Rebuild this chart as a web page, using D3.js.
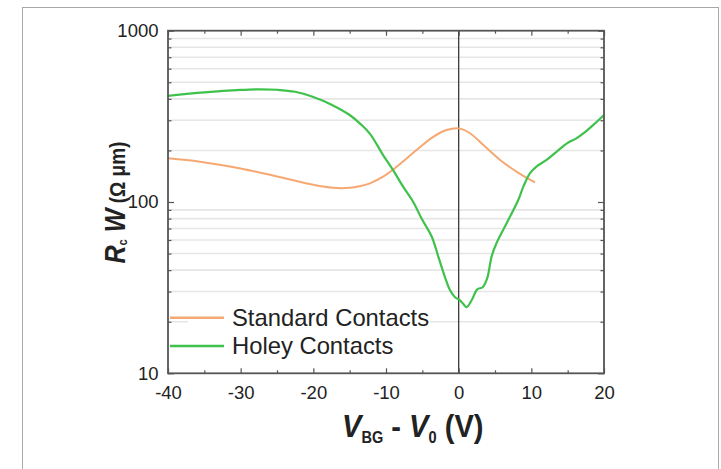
<!DOCTYPE html>
<html>
<head>
<meta charset="utf-8">
<script src="https://cdn.jsdelivr.net/npm/d3@7"></script>
<style>
  html, body { margin: 0; padding: 0; background: #fff; }
  svg { display: block; }
  text { font-family: "Liberation Sans", Arial, sans-serif; fill: #222; }
</style>
</head>
<body>
<svg id="chart" width="721" height="469"></svg>
<script>
// ---- data ----
const standardV = [-40, -35.6, -30, -25, -20, -17.3, -15, -13.5, -12.2, -10.4, -8.5, -5.8, -3.5, -1.66, 0, 1.56, 3.4, 5.7, 8.0, 10.5];
const standardR = [180, 172, 157, 141, 126, 121, 121, 124, 128.5, 140.5, 161, 201, 240, 263, 269, 252, 215, 176, 150, 130];

const holeyV = [-40, -35, -30, -27.5, -25, -22.5, -20, -17.5, -15, -13.5, -12.2, -10.4, -9.0, -7.6, -6.25, -5.1, -3.7, -2.8, -1.9, -1.2, -0.5, 0.1, 0.64, 1.1, 1.8, 2.56, 3.3, 3.93, 4.53, 5.2, 6.6, 8.2, 8.9, 9.8, 10.7, 12.1, 13.5, 14.9, 16.2, 17.2, 18.5, 20];
const holeyR = [416, 436, 451, 455, 452, 440, 410, 370, 322, 285, 250, 188, 153, 122, 100, 80, 62.7, 48, 36.6, 30.6, 27.8, 26.8, 25.4, 24.3, 26.8, 30.9, 31.8, 35.9, 48, 57.4, 75.1, 102.7, 123, 147, 161, 176, 197, 220, 235, 252, 281, 322];

const xTickValues = [-40, -30, -20, -10, 0, 10, 20];
const xMinorValues = [-35, -25, -15, -5, 5, 15];
const yTickValues = [10, 100, 1000];
const seriesNames = ["Standard Contacts", "Holey Contacts"];
const seriesColors = ["#f6a872", "#3fc24c"];

// ---- layout ----
const svg = d3.select("#chart");
const L = 168, R = 604, T = 30.7, B = 373.3;

const x = d3.scaleLinear().domain([-40, 20]).range([L, R]);
const y = d3.scaleLog().domain([10, 1000]).range([B, T]);
const fmt = d => String(d);

// outer frame
svg.append("rect").attr("x", 22.5).attr("y", 7.5).attr("width", 696).attr("height", 480)
  .attr("fill", "none").attr("stroke", "#a8a8a8").attr("stroke-width", 1);

// minor gridlines
const minorY = [];
[10, 100].forEach(d => { for (let k = 2; k <= 9; k++) minorY.push(d * k); });
svg.append("g").selectAll("line").data(minorY).join("line")
  .attr("x1", L).attr("x2", R).attr("y1", d => y(d)).attr("y2", d => y(d))
  .attr("stroke", "#e6e6e6").attr("stroke-width", 1.6);

// legend background (hides gridlines as in reference)
svg.append("rect").attr("x", 188).attr("y", 305).attr("width", 242).attr("height", 56).attr("fill", "#fff");

// zero line
svg.append("line").attr("x1", x(0)).attr("x2", x(0)).attr("y1", T).attr("y2", B)
  .attr("stroke", "#3a3a3a").attr("stroke-width", 1.3);

// curves
const line = d3.line().curve(d3.curveCatmullRom.alpha(0.5)).x(d => x(d[0])).y(d => y(d[1]));
const sData = standardV.map((v, i) => [v, standardR[i]]);
const hData = holeyV.map((v, i) => [v, holeyR[i]]);
svg.append("clipPath").attr("id", "clip").append("rect")
  .attr("x", L).attr("y", T).attr("width", R - L).attr("height", B - T);
svg.append("path").datum(sData).attr("d", line).attr("fill", "none")
  .attr("stroke", seriesColors[0]).attr("stroke-width", 2).attr("clip-path", "url(#clip)");
svg.append("path").datum(hData).attr("d", line).attr("fill", "none")
  .attr("stroke", seriesColors[1]).attr("stroke-width", 2.2).attr("clip-path", "url(#clip)");

// axes (ticks inside)
const axisColor = "#555";
function styleAxis(g) {
  g.select(".domain").remove();
  g.selectAll(".tick line").attr("stroke", axisColor).attr("stroke-width", 1.2);
  g.selectAll(".tick text").attr("font-size", "18.5px").attr("fill", "#222")
    .attr("font-family", "'Liberation Sans', Arial, sans-serif");
}
// bottom
svg.append("g").attr("transform", `translate(0,${B})`)
  .call(d3.axisBottom(x).tickValues(xTickValues).tickSizeInner(-5).tickSizeOuter(0).tickPadding(13).tickFormat(fmt))
  .call(styleAxis);
svg.append("g").attr("transform", `translate(0,${B})`)
  .call(d3.axisBottom(x).tickValues(xMinorValues).tickSizeInner(-3).tickSizeOuter(0).tickFormat(""))
  .call(styleAxis);
// top
svg.append("g").attr("transform", `translate(0,${T})`)
  .call(d3.axisTop(x).tickValues(xTickValues).tickSizeInner(-5).tickSizeOuter(0).tickFormat(""))
  .call(styleAxis);
svg.append("g").attr("transform", `translate(0,${T})`)
  .call(d3.axisTop(x).tickValues(xMinorValues).tickSizeInner(-3).tickSizeOuter(0).tickFormat(""))
  .call(styleAxis);
// left
svg.append("g").attr("transform", `translate(${L},0)`)
  .call(d3.axisLeft(y).tickValues(yTickValues).tickSizeInner(-6).tickSizeOuter(0).tickPadding(9.5).tickFormat(fmt))
  .call(styleAxis);
svg.append("g").attr("transform", `translate(${L},0)`)
  .call(d3.axisLeft(y).tickValues(minorY).tickSizeInner(-3.5).tickSizeOuter(0).tickFormat(""))
  .call(styleAxis);
// right
svg.append("g").attr("transform", `translate(${R},0)`)
  .call(d3.axisRight(y).tickValues(yTickValues).tickSizeInner(-6).tickSizeOuter(0).tickFormat(""))
  .call(styleAxis);
svg.append("g").attr("transform", `translate(${R},0)`)
  .call(d3.axisRight(y).tickValues(minorY).tickSizeInner(-3.5).tickSizeOuter(0).tickFormat(""))
  .call(styleAxis);

// frame
svg.append("rect").attr("x", L).attr("y", T).attr("width", R - L).attr("height", B - T)
  .attr("fill", "none").attr("stroke", "#555").attr("stroke-width", 1.8);

// legend
const legY = [317.7, 346];
seriesNames.forEach((name, i) => {
  svg.append("line").attr("x1", 170).attr("x2", 224).attr("y1", legY[i]).attr("y2", legY[i])
    .attr("stroke", seriesColors[i]).attr("stroke-width", 2.4);
  svg.append("text").attr("x", 232).attr("y", legY[i] + 8).attr("font-size", "23.8px").text(name);
});

// x title
const xt = svg.append("text").attr("y", 436.7).attr("font-weight", "bold").attr("font-size", "32px");
xt.append("tspan").attr("font-style", "italic").text("V");
xt.append("tspan").attr("font-size", "16px").attr("dy", 6.5).text("BG");
xt.append("tspan").attr("dy", -6.5).text(" - ");
xt.append("tspan").attr("font-style", "italic").text("V");
xt.append("tspan").attr("font-size", "16px").attr("dy", 6.5).text("0");
xt.append("tspan").attr("dy", -6.5).text(" (V)");
(function () {
  const w = xt.node().getComputedTextLength();
  const target = 141.5, left = 342;
  const s = target / w;
  xt.attr("x", 0).attr("transform", `translate(${left},0) scale(${s},1)`);
})();

// y title
const yt = svg.append("text").attr("font-weight", "bold").attr("font-size", "29px");
yt.append("tspan").attr("font-style", "italic").text("R");
yt.append("tspan").attr("font-size", "13px").attr("dy", 2).text("c");
yt.append("tspan").attr("dy", -2).attr("font-style", "italic").text(" W");
yt.append("tspan").attr("font-size", "22px").text(" (Ω μm)");
(function () {
  const w = yt.node().getComputedTextLength();
  const target = 122, bottom = 263.5, baseX = 125;
  const s = target / w;
  yt.attr("x", 0).attr("y", 0)
    .attr("transform", `translate(${baseX},${bottom}) rotate(-90) scale(${s},1)`);
})();
</script>
</body>
</html>
